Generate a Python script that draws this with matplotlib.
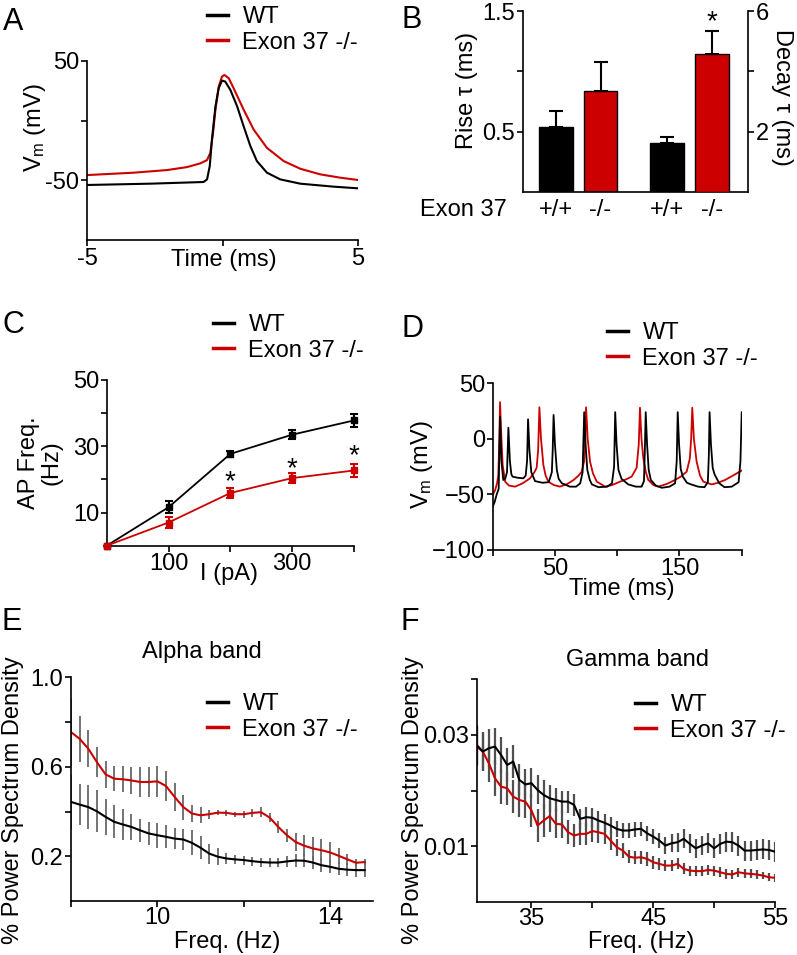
import matplotlib
matplotlib.use("Agg")
import matplotlib.pyplot as plt
from matplotlib.lines import Line2D

plt.rcParams['font.family'] = ['Liberation Sans', 'DejaVu Sans']
plt.rcParams['font.size'] = 17
plt.rcParams['mathtext.default'] = 'regular'
plt.rcParams['axes.linewidth'] = 1.2
for a in ('xtick', 'ytick'):
    plt.rcParams[a + '.major.size'] = 4
    plt.rcParams[a + '.major.width'] = 1.2
    plt.rcParams[a + '.major.pad'] = 1.5
    plt.rcParams[a + '.direction'] = 'out'

RED = '#cc0000'
GREY = '#686868'
W, H = 797, 955

# ---- A: single action potential ----
a_wt_t = [-5, -2.66, -0.70, -0.57, -0.47, -0.39, -0.26, -0.14, -0.02, 0.10, 0.29,
          0.54, 0.78, 1.03, 1.27, 1.64, 2.13, 2.87, 4.10, 5]
a_wt_v = [-53.9, -52.8, -51.4, -49.2, -38, -15.8, 12, 27.2, 33.6, 32.8, 25.8,
          12, -4.7, -21.4, -33.9, -43.6, -49.2, -52.8, -55.3, -56.7]
a_ko_t = [-5, -3.28, -2.05, -1.31, -0.82, -0.57, -0.45, -0.35, -0.26, -0.14, -0.02,
          0.07, 0.23, 0.41, 0.78, 1.15, 1.64, 2.26, 2.87, 3.61, 4.35, 5]
a_ko_v = [-45.6, -43.6, -41.4, -38.9, -35.8, -33, -27, -10.3, 9.2, 28.6, 36.9,
          38.3, 35.6, 27.2, 9.2, -7.5, -22.8, -33.9, -40.3, -45, -47.8, -49.7]

# ---- B: rise / decay time constants ----
b_groups = ['+/+', '-/-', '+/+', '-/-']
rise_tau = [0.536, 0.84]
rise_err = [0.134, 0.24]
decay_tau = [1.61, 4.57]
decay_err = [0.22, 0.76]

# ---- C: f-I curve ----
c_current = [0, 100, 200, 300, 400]
c_wt = [0, 11.6, 27.7, 33.5, 37.8]
c_wt_err = [0, 1.8, 1.0, 1.4, 2.0]
c_ko = [0, 7.0, 15.9, 20.4, 22.7]
c_ko_err = [0, 1.7, 1.5, 1.6, 1.9]
c_star_i = [200, 300, 400]
c_star_y = [21.2, 25.3, 29.1]

# ---- D: spike trains ----
d_wt_t = [0, 1.5, 3.2, 4.8, 5.9, 7.0, 8.5, 10.0, 11.5, 12.6, 13.8, 15.0, 16.0, 20.0,
          24.6, 26.5, 27.6, 28.4, 29.5, 31.0, 34.0, 40.0, 45.0, 47.5, 48.2, 48.9,
          50.0, 51.5, 53.0, 55.6, 62.0, 67.0, 70.3, 72.2, 72.8, 73.5, 74.6, 76.0,
          78.0, 79.7, 85.0, 92.0, 95.8, 97.5, 98.4, 99.5, 101.0, 103.5, 108.9,
          115.0, 119.6, 121.5, 122.2, 122.9, 124.0, 125.3, 127.0, 131.0, 135.8,
          142.0, 146.5, 147.8, 148.6, 149.7, 151.0, 152.7, 156.0, 159.4, 165.0,
          170.1, 172.8, 173.6, 174.2, 175.3, 176.7, 178.2, 182.0, 186.2, 192.0,
          197.5, 199.0, 200.0]
d_wt_v = [-61, -57, -50, -45, 20, -20, -37, -36, -30, 10, -20, -32, -34, -35,
          -35.5, -33, -20, 17.6, -10, -30, -38, -39.5, -39, -30, -10, 21.5,
          -5, -28, -36, -40, -43, -43, -40, -30, -5, 24, -5, -28,
          -37, -41, -43.5, -43, -40, -25, 24, -5, -28, -36, -41,
          -43, -43, -38, -10, 24, -5, -28, -37, -42, -44,
          -43, -40, -20, 24, -5, -27, -34, -39.5, -41, -43,
          -43.5, -39, -15, 24, -5, -26, -32, -40, -43.5, -43,
          -39, -20, 24]
d_ko_t = [0, 2.0, 3.5, 4.5, 5.3, 5.9, 7.0, 8.0, 10.0, 13.0, 18.0, 24.0, 30.0, 33.5,
          35.3, 36.5, 37.5, 38.8, 40.7, 42.5, 44.7, 49.0, 54.0, 60.0, 65.0, 69.0,
          71.5, 73.5, 74.3, 75.0, 76.3, 78.2, 80.5, 83.6, 90.3, 96.0, 102.3, 107.0,
          111.6, 115.6, 117.3, 118.3, 119.5, 121.0, 123.0, 125.0, 129.0, 133.0,
          140.0, 146.4, 151.0, 155.8, 158.3, 159.4, 160.3, 161.6, 163.8, 166.5,
          169.2, 175.9, 181.0, 186.6, 193.0, 200.0]
d_ko_v = [-50.5, -46, -40, -32.5, 0, 33, 0, -23.5, -38.5, -42, -43, -40, -35.5, -30,
          -26, -10, 28.4, 0, -23.5, -33, -38.5, -41.5, -43, -40.5, -37, -33,
          -29.5, -20, 0, 28.4, 0, -20.5, -31, -38.5, -43, -41.5, -38.5, -36.5,
          -34, -26, -5, 28, 0, -17.5, -30, -37, -41.5, -43,
          -40.5, -37, -34, -29.5, -18, 0, 28, 0, -20.5, -33,
          -38.5, -41, -39.5, -37, -33, -28.5]

# ---- E: alpha band PSD ----
e_freq = [8.0, 8.2, 8.4, 8.6, 8.8, 9.0, 9.2, 9.4, 9.6, 9.8, 10.0, 10.2, 10.4, 10.6,
          10.8, 11.0, 11.2, 11.4, 11.6, 11.8, 12.0, 12.2, 12.4, 12.6, 12.8, 13.0,
          13.2, 13.4, 13.6, 13.8, 14.0, 14.2, 14.4, 14.6, 14.8]
e_wt = [0.443, 0.431, 0.420, 0.401, 0.376, 0.354, 0.342, 0.331, 0.316, 0.302, 0.294,
        0.287, 0.279, 0.275, 0.260, 0.238, 0.212, 0.198, 0.190, 0.186, 0.183, 0.178,
        0.174, 0.172, 0.172, 0.177, 0.181, 0.180, 0.172, 0.160, 0.153, 0.144, 0.140,
        0.138, 0.138]
e_wt_err = [0.12, 0.093, 0.1, 0.093, 0.082, 0.074, 0.071, 0.06, 0.052, 0.052, 0.056,
            0.052, 0.048, 0.048, 0.056, 0.052, 0.045, 0.039, 0.025, 0.02, 0.02, 0.02,
            0.02, 0.02, 0.022, 0.025, 0.028, 0.03, 0.03, 0.03, 0.03, 0.03, 0.03,
            0.03, 0.03]
e_ko = [0.755, 0.725, 0.681, 0.621, 0.566, 0.547, 0.544, 0.539, 0.532, 0.532, 0.535,
        0.514, 0.465, 0.420, 0.391, 0.383, 0.388, 0.395, 0.394, 0.388, 0.388, 0.394,
        0.397, 0.373, 0.331, 0.294, 0.264, 0.247, 0.235, 0.227, 0.217, 0.202, 0.186,
        0.171, 0.174]
e_ko_err = [0.15, 0.104, 0.082, 0.067, 0.061, 0.055, 0.058, 0.061, 0.065, 0.067, 0.068,
            0.068, 0.063, 0.056, 0.037, 0.035, 0.02, 0.012, 0.012, 0.012, 0.015, 0.018,
            0.022, 0.022, 0.025, 0.03, 0.04, 0.048, 0.05, 0.05, 0.045, 0.035, 0.025,
            0.015, 0.012]

# ---- F: gamma band PSD ----
f_freq = [30.5, 31, 31.5, 32, 32.5, 33, 33.5, 34, 34.5, 35, 35.5, 36, 36.5, 37, 37.5,
          38, 38.5, 39, 39.5, 40, 40.5, 41, 41.5, 42, 42.5, 43, 43.5, 44, 44.5, 45,
          45.5, 46, 46.5, 47, 47.5, 48, 48.5, 49, 49.5, 50, 50.5, 51, 51.5, 52, 52.5,
          53, 53.5, 54, 54.5, 55]
f_wt = [.0282, .0270, .0276, .0279, .0264, .0246, .0252, .0219, .0211, .0213, .0201,
        .0192, .0186, .0183, .0180, .0180, .0174, .0149, .0152, .0151, .0146, .0142,
        .0137, .0131, .0128, .0128, .0130, .0131, .0123, .0117, .0110, .0101, .0105,
        .0107, .0113, .0104, .0096, .0101, .0105, .0096, .0104, .0108, .0107, .0101,
        .0092, .0092, .0093, .0094, .0093, .0090]
f_wt_err = [.0035, .0035, .0034, .0033, .0032, .0031, .003,
            .0028, .0027, .0027, .0026, .0026,
            .0024, .0022, .002, .002, .0019, .0018,
            .0018, .0018, .0017, .0016, .0015, .0014,
            .0013, .0013, .0013, .0013, .0013, .0013,
            .0014, .0015, .0016, .0017, .0017, .0017, .0017, .0017, .0018, .0018,
            .0018, .0018, .0018, .0018, .0018, .0018, .0018, .0018, .0018, .0018]
f_ko = [.0279, .0270, .0249, .0222, .0207, .0204, .0189, .0183, .0180, .0164, .0137,
        .0146, .0154, .0140, .0139, .0125, .0119, .0122, .0122, .0127, .0125, .0122,
        .0110, .0098, .0092, .0081, .0079, .0080, .0077, .0071, .0068, .0065, .0065,
        .0068, .0059, .0056, .0055, .0055, .0057, .0056, .0053, .0050, .0049, .0053,
        .0051, .0050, .0049, .0047, .0044, .0043]
f_ko_err = [.0035, .0034, .0033, .0032, .0031, .003, .003,
            .003, .003, .003, .003, .003,
            .0028, .0026, .0024, .0022, .0021, .002,
            .002, .002, .002, .0019, .0017, .0015,
            .0013, .0012, .0012, .0012, .0012, .0012,
            .0011, .001, .001, .001, .001, .0009, .0009, .0009, .0009, .0009,
            .0009, .0009, .0008, .0008, .0008, .0008, .0008, .0007, .0007, .0007]


fig = plt.figure(figsize=(W / 100, H / 100), dpi=100)


def box(x0, y0, x1, y1):
    # pixel box (top-left origin) -> figure fraction rect
    return [x0 / W, 1 - y1 / H, (x1 - x0) / W, (y1 - y0) / H]


def ftext(x, y, s, **kw):
    fig.text(x / W, 1 - y / H, s, **kw)


def clean(ax):
    ax.spines['top'].set_visible(False)
    ax.spines['right'].set_visible(False)


def legend(ax, x, y):
    handles = [Line2D([], [], color='black', lw=2.5), Line2D([], [], color=RED, lw=2.5)]
    ax.legend(handles, ['WT', 'Exon 37 -/-'], loc='upper left',
              bbox_to_anchor=(x / W, 1 - y / H), bbox_transform=fig.transFigure,
              frameon=False, handlelength=0.9, handletextpad=0.6, labelspacing=0.15,
              borderpad=0, borderaxespad=0)


def letter(x, y, s):
    ftext(x, y, s, fontsize=22, va='baseline', ha='left')


# A
axA = fig.add_axes(box(87, 61, 358, 240))
clean(axA)
axA.plot(a_ko_t, a_ko_v, color=RED, lw=1.5)
axA.plot(a_wt_t, a_wt_v, color='black', lw=1.5)
axA.set_xlim(-5, 5)
axA.set_ylim(-100, 50)
axA.set_xticks([-5, 0, 5], ['-5', '', '5'])
axA.set_yticks([-50, 0, 50], ['-50', '', '50'])
legend(axA, 207, 6)
ftext(35, 128, r'V$_{m}$ (mV)', rotation=90, ha='center', va='center')
ftext(224, 260, 'Time (ms)', ha='center', va='center')
letter(3, 30, 'A')

# B
axB = fig.add_axes(box(523, 11, 748, 192))
axB.spines['top'].set_visible(False)
axB.spines['right'].set_visible(False)
axB2 = axB.twinx()
axB2.spines['top'].set_visible(False)
axB2.spines['left'].set_visible(False)
axB2.spines['bottom'].set_visible(False)
pos = [0, 1, 2.5, 3.5]
axB.bar(pos[:2], rise_tau, width=0.76, color=['black', RED], edgecolor='black', lw=1)
axB.errorbar(pos[:2], rise_tau, yerr=[[0, 0], rise_err], fmt='none', ecolor='black',
             elinewidth=1.5, capsize=5, capthick=1.5)
axB2.bar(pos[2:], decay_tau, width=0.76, color=['black', RED], edgecolor='black', lw=1)
axB2.errorbar(pos[2:], decay_tau, yerr=[[0, 0], decay_err], fmt='none', ecolor='black',
              elinewidth=1.5, capsize=5, capthick=1.5)
axB.set_xlim(-0.74, 4.31)
axB.set_ylim(0, 1.5)
axB2.set_ylim(0, 6)
axB.set_yticks([0.5, 1.0, 1.5], ['0.5', '', '1.5'])
axB2.set_yticks([2, 4, 6], ['2', '', '6'])
axB.set_xticks(pos, b_groups)
axB.tick_params(axis='x', length=0, pad=5)
axB2.text(pos[3], 5.4, '*', ha='center', va='baseline', fontsize=20)
ftext(467, 90, 'Rise τ (ms)', rotation=90, ha='center', va='center')
ftext(782, 97, 'Decay τ (ms)', rotation=270, ha='center', va='center')
ftext(463, 210, 'Exon 37', ha='center', va='center')
letter(402, 28, 'B')

# C
axC = fig.add_axes(box(106.7, 380, 354, 545.7))
clean(axC)
axC.errorbar(c_current, c_wt, yerr=c_wt_err, fmt='-s', color='black', ms=5, lw=1.3,
             elinewidth=1.5, capsize=3, capthick=1.5, clip_on=False, zorder=3)
axC.errorbar(c_current, c_ko, yerr=c_ko_err, fmt='-s', color=RED, ms=5, lw=1.3,
             elinewidth=1.5, capsize=3, capthick=1.5, clip_on=False, zorder=3)
for xi, yi in zip(c_star_i, c_star_y):
    axC.text(xi, yi - 4.2, '*', ha='center', va='baseline', fontsize=20)
axC.set_xlim(0, 400)
axC.set_ylim(0, 50)
axC.set_xticks([100, 200, 300, 400], ['100', '', '300', ''])
axC.set_yticks([10, 20, 30, 40, 50], ['10', '', '30', '', '50'])
legend(axC, 213, 314)
ftext(40, 463, 'AP Freq.\n(Hz)', rotation=90, ha='center', va='center',
      linespacing=1.0, multialignment='center')
ftext(229, 574, 'I (pA)', ha='center', va='center')
letter(2, 333, 'C')

# D
axD = fig.add_axes(box(492.7, 383.3, 741.7, 550))
clean(axD)
axD.plot(d_ko_t, d_ko_v, color=RED, lw=1.3)
axD.plot(d_wt_t, d_wt_v, color='black', lw=1.3)
axD.set_xlim(0, 200)
axD.set_ylim(-100, 50)
axD.set_xticks([0, 50, 100, 150, 200], ['', '50', '', '150', ''])
axD.set_yticks([-100, -50, 0, 50])
legend(axD, 607, 322)
ftext(422, 465, r'V$_{m}$ (mV)', rotation=90, ha='center', va='center')
ftext(622, 589, 'Time (ms)', ha='center', va='center')
letter(402, 337, 'D')

# E
axE = fig.add_axes(box(71, 677.3, 373.3, 901))
clean(axE)
axE.errorbar(e_freq, e_wt, yerr=e_wt_err, fmt='none', ecolor=GREY, elinewidth=1.3)
axE.errorbar(e_freq, e_ko, yerr=e_ko_err, fmt='none', ecolor=GREY, elinewidth=1.3)
axE.plot(e_freq, e_ko, color=RED, lw=1.5)
axE.plot(e_freq, e_wt, color='black', lw=1.5)
axE.set_xlim(8, 15)
axE.set_ylim(0, 1.0)
axE.set_xticks([8, 10, 12, 14], ['', '10', '', '14'])
axE.set_yticks([0.2, 0.4, 0.6, 0.8, 1.0], ['0.2', '', '0.6', '', '1.0'])
axE.tick_params(axis='x', pad=0.5)
legend(axE, 207, 693)
ftext(202, 652, 'Alpha band', ha='center', va='center')
ftext(13, 800, '% Power Spectrum Density', rotation=90, ha='center', va='center')
ftext(227, 942, 'Freq. (Hz)', ha='center', va='center')
letter(2, 630, 'E')

# F
axF = fig.add_axes(box(476.7, 679.3, 775, 901.7))
clean(axF)
axF.errorbar(f_freq, f_wt, yerr=f_wt_err, fmt='none', ecolor='#505050', elinewidth=1.6)
axF.errorbar(f_freq, f_ko, yerr=f_ko_err, fmt='none', ecolor='#505050', elinewidth=1.6)
axF.plot(f_freq, f_ko, color=RED, lw=1.5)
axF.plot(f_freq, f_wt, color='black', lw=1.5)
axF.set_xlim(30.5, 55)
axF.set_ylim(0, 0.04)
axF.set_xticks([35, 40, 45, 50, 55], ['35', '', '45', '', '55'])
axF.set_yticks([0.01, 0.02, 0.03, 0.04], ['0.01', '', '0.03', ''])
axF.tick_params(axis='x', pad=0.5)
legend(axF, 635, 694)
ftext(637, 660, 'Gamma band', ha='center', va='center')
ftext(413, 800, '% Power Spectrum Density', rotation=90, ha='center', va='center')
ftext(641, 942, 'Freq. (Hz)', ha='center', va='center')
letter(400, 630, 'F')

fig.savefig('out.png', dpi=100)
